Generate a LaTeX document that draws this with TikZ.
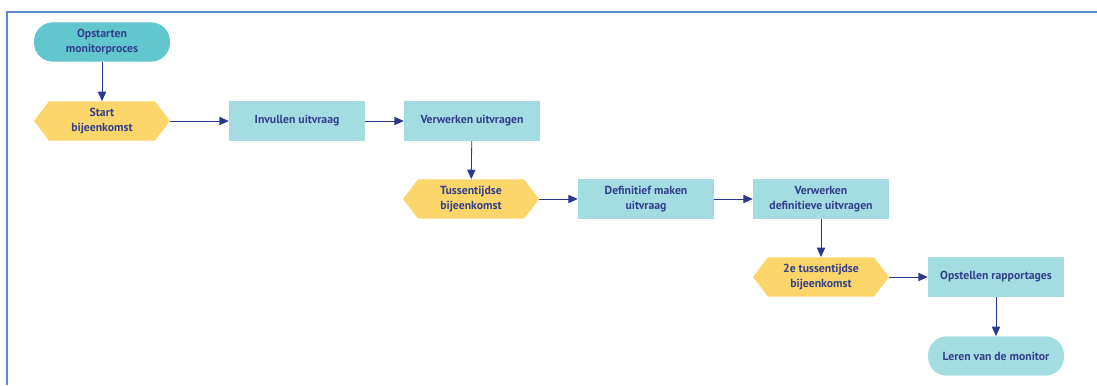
\documentclass[tikz,border=0pt]{standalone}
\usepackage{fontspec}
\setmainfont{PT Sans}
\usetikzlibrary{arrows.meta,positioning,calc}

\begin{document}
\begin{tikzpicture}[
            x=0.03cm, y=-0.03cm,
            >={Triangle[length=8pt,width=7pt]},
            flow/.style={->,line width=0.7pt,colorArrow},
            box/.style={rectangle,fill=colorBox,minimum width=4.08cm,minimum height=1.18cm,
                inner sep=2pt,align=center,text=colorText,
                font=\bfseries\fontsize{10}{12.5}\selectfont},
            pill/.style={box,rounded corners=0.57cm},
            meeting/.style={box,fill=none,path picture={
                \fill[colorMeet] (path picture bounding box.west)
                    -- ([xshift=0.45cm]path picture bounding box.north west)
                    -- ([xshift=-0.45cm]path picture bounding box.north east)
                    -- (path picture bounding box.east)
                    -- ([xshift=-0.45cm]path picture bounding box.south east)
                    -- ([xshift=0.45cm]path picture bounding box.south west) -- cycle;}}
        ]

        % Define colors
        \definecolor{colorFrame}{RGB}{91,139,201}
        \definecolor{colorStart}{RGB}{98,198,206}
        \definecolor{colorBox}{RGB}{163,221,225}
        \definecolor{colorMeet}{RGB}{253,214,107}
        \definecolor{colorText}{RGB}{50,64,140}
        \definecolor{colorArrow}{RGB}{42,57,144}

        \useasboundingbox (0,0) rectangle (1097,385);

        % Frame
        \draw[colorFrame,line width=1.6pt] (7,385) -- (7,12) -- (1097,12);

        % Steps
        \node[pill,fill=colorStart] (opstart) at (102,42) {Opstarten\\monitorproces};
        \node[meeting] (startmeet) at (102,121) {Start\\bijeenkomst};
        \node[box] (invullen) at (297,121) {Invullen uitvraag};
        \node[box] (verwerk) at (472,121) {Verwerken uitvragen};
        \node[meeting] (tussen) at (471,199) {Tussentijdse\\bijeenkomst};
        \node[box] (definitief) at (646,199) {Definitief maken\\uitvraag};
        \node[box] (verwerkdef) at (821,199) {Verwerken\\definitieve uitvragen};
        \node[meeting] (tussen2) at (821,277) {2e tussentijdse\\bijeenkomst};
        \node[box] (rapport) at (996,277) {Opstellen rapportages};
        \node[pill] (leren) at (996,356) {Leren van de monitor};

        % Arrows
        \draw[flow] (opstart) -- (startmeet);
        \draw[flow] (startmeet) -- (invullen);
        \draw[flow] (invullen) -- (verwerk);
        \draw[flow] (verwerk) -- (tussen);
        \draw[flow] (tussen) -- (definitief);
        \draw[flow] (definitief) -- (verwerkdef);
        \draw[flow] (verwerkdef) -- (tussen2);
        \draw[flow] (tussen2) -- (rapport);
        \draw[flow] (rapport) -- (leren);

        \end{tikzpicture}
\end{document}
